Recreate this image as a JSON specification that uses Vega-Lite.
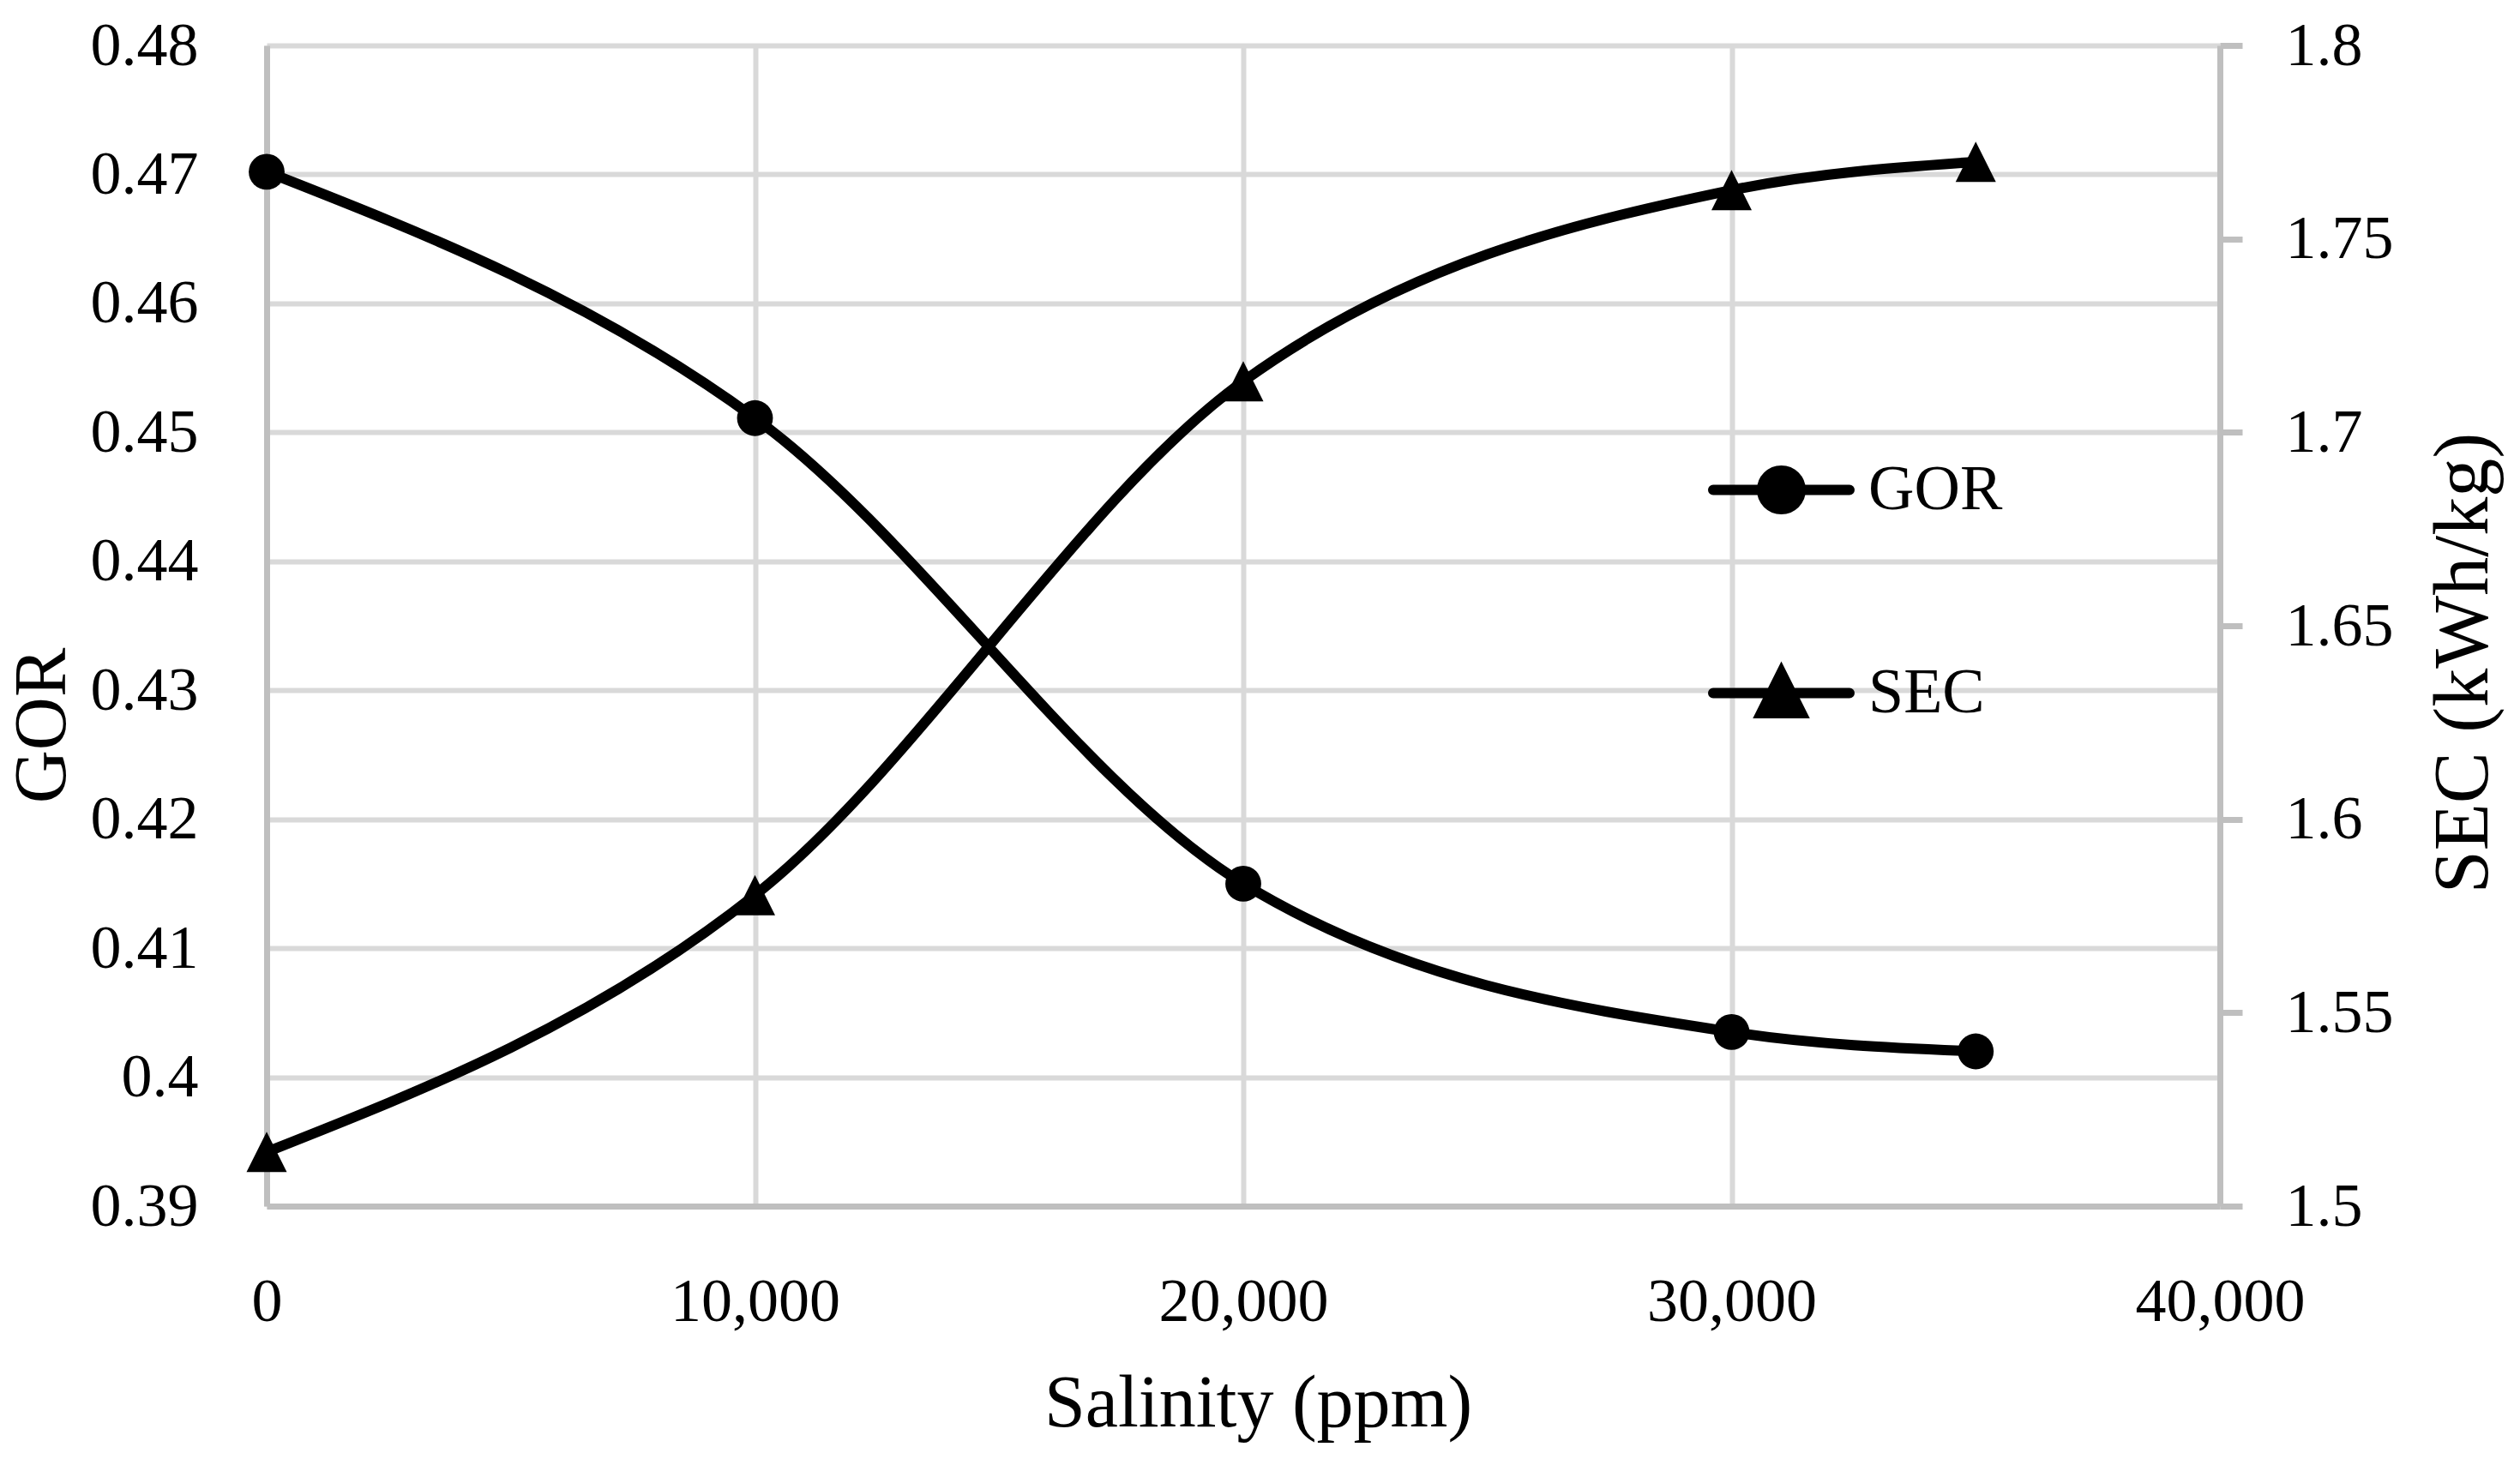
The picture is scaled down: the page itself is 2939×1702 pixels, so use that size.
{
  "$schema": "https://vega.github.io/schema/vega-lite/v6.json",
  "description": "GOR and SEC against feed salinity, two y axes.",
  "width": 2278,
  "height": 1354,
  "autosize": "none",
  "padding": {"left": 311, "top": 53, "right": 350, "bottom": 295},
  "background": "white",
  "config": {
    "view": {"stroke": null},
    "font": "Liberation Serif",
    "axis": {
      "labelFont": "Liberation Serif",
      "titleFont": "Liberation Serif",
      "labelColor": "black",
      "titleColor": "black",
      "labelFontSize": 72,
      "titleFontSize": 86,
      "titleFontWeight": "normal",
      "titleLimit": 2000,
      "labelLimit": 600,
      "domainColor": "#bfbfbf",
      "domainWidth": 7,
      "gridColor": "#d9d9d9",
      "gridWidth": 6,
      "gridOpacity": 1,
      "labelFlush": false,
      "labelOverlap": false,
      "labelBound": false
    }
  },
  "data": {
    "values": [
      {"salinity": 0, "GOR": 0.4702, "SEC": 1.514},
      {"salinity": 10000, "GOR": 0.4511, "SEC": 1.5804},
      {"salinity": 20000, "GOR": 0.415, "SEC": 1.7132},
      {"salinity": 30000, "GOR": 0.4035, "SEC": 1.7626},
      {"salinity": 35000, "GOR": 0.402, "SEC": 1.7699}
    ]
  },
  "encoding": {
    "x": {
      "field": "salinity",
      "type": "quantitative",
      "scale": {"domain": [0, 40000], "nice": false},
      "axis": {
        "values": [0, 10000, 20000, 30000, 40000],
        "labelExpr": "format(datum.value, ',.0f')",
        "grid": true,
        "ticks": false,
        "labelPadding": 76,
        "title": "Salinity (ppm)",
        "titleX": 1156,
        "titleY": 256,
        "titleAlign": "center",
        "titleBaseline": "alphabetic"
      }
    }
  },
  "layer": [
    {
      "encoding": {
        "y": {
          "field": "GOR",
          "type": "quantitative",
          "scale": {"domain": [0.39, 0.48], "nice": false, "zero": false},
          "axis": {
            "orient": "left",
            "values": [0.39, 0.4, 0.41, 0.42, 0.43, 0.44, 0.45, 0.46, 0.47, 0.48],
            "format": ".2~f",
            "grid": true,
            "ticks": false,
            "labelPadding": 80,
            "title": "GOR",
            "titleAngle": 270,
            "titleX": -236,
            "titleY": 793,
            "titleAlign": "center",
            "titleBaseline": "alphabetic"
          }
        },
        "color": {
          "datum": "GOR",
          "type": "nominal",
          "scale": {"domain": ["GOR", "SEC"], "range": ["black", "black"]},
          "legend": {
            "orient": "none",
            "legendX": 1681,
            "legendY": 433,
            "title": null,
            "padding": 0,
            "symbolSize": 25281,
            "symbolStrokeWidth": 12,
            "symbolFillColor": "black",
            "symbolStrokeColor": "black",
            "labelFont": "Liberation Serif",
            "labelFontSize": 74,
            "labelColor": "black",
            "labelLimit": 600,
            "labelOffset": 16,
            "rowPadding": 105,
            "encode": {
              "symbols": {
                "update": {
                  "shape": {"signal": "datum.value === 'GOR' ? 'M-1,0H1M0.283,0A0.283,0.283,0,1,1,-0.283,0A0.283,0.283,0,1,1,0.283,0Z' : 'M-1,0H1M0,-0.296L0.296,0.296L-0.296,0.296Z'"},
                  "fill": {"value": "black"},
                  "stroke": {"value": "black"},
                  "strokeCap": {"value": "round"},
                  "opacity": {"value": 1}
                }
              }
            }
          }
        }
      },
      "layer": [
        {"mark": {"type": "line", "interpolate": "monotone", "strokeWidth": 12}},
        {"mark": {"type": "point", "shape": "circle", "filled": true, "size": 1750, "opacity": 1}}
      ]
    },
    {
      "encoding": {
        "y": {
          "field": "SEC",
          "type": "quantitative",
          "scale": {"domain": [1.5, 1.8], "nice": false, "zero": false},
          "axis": {
            "orient": "right",
            "values": [1.5, 1.55, 1.6, 1.65, 1.7, 1.75, 1.8],
            "format": ".2~f",
            "grid": false,
            "ticks": true,
            "tickSize": 26,
            "tickColor": "#bfbfbf",
            "tickWidth": 7,
            "labelPadding": 50,
            "title": "SEC (kWh/kg)",
            "titleFontSize": 90,
            "titleAngle": 270,
            "titleX": 311,
            "titleY": 720,
            "titleAlign": "center",
            "titleBaseline": "alphabetic"
          }
        },
        "color": {
          "datum": "SEC",
          "type": "nominal",
          "scale": {"domain": ["GOR", "SEC"], "range": ["black", "black"]},
          "legend": {
            "orient": "none",
            "legendX": 1681,
            "legendY": 433,
            "title": null,
            "padding": 0,
            "symbolSize": 25281,
            "symbolStrokeWidth": 12,
            "symbolFillColor": "black",
            "symbolStrokeColor": "black",
            "labelFont": "Liberation Serif",
            "labelFontSize": 74,
            "labelColor": "black",
            "labelLimit": 600,
            "labelOffset": 16,
            "rowPadding": 105,
            "encode": {
              "symbols": {
                "update": {
                  "shape": {"signal": "datum.value === 'GOR' ? 'M-1,0H1M0.283,0A0.283,0.283,0,1,1,-0.283,0A0.283,0.283,0,1,1,0.283,0Z' : 'M-1,0H1M0,-0.296L0.296,0.296L-0.296,0.296Z'"},
                  "fill": {"value": "black"},
                  "stroke": {"value": "black"},
                  "strokeCap": {"value": "round"},
                  "opacity": {"value": 1}
                }
              }
            }
          }
        }
      },
      "layer": [
        {"mark": {"type": "line", "interpolate": "monotone", "strokeWidth": 12}},
        {"mark": {"type": "point", "shape": "M0,-1L1,1L-1,1Z", "filled": true, "size": 2209, "opacity": 1}}
      ]
    }
  ],
  "resolve": {"scale": {"y": "independent"}}
}
